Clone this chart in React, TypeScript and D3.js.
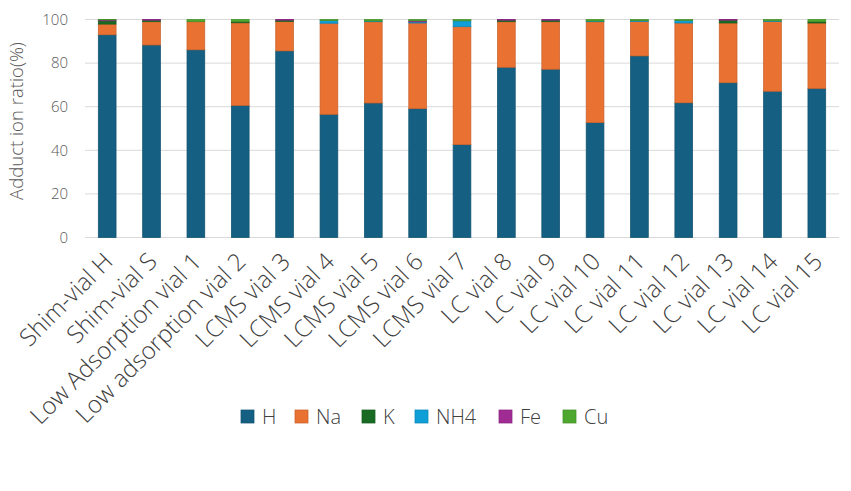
import React from "react";
import * as d3 from "d3";

const categories = [
  "Shim-vial H", "Shim-vial S", "Low Adsorption vial 1", "Low adsorption vial 2",
  "LCMS vial 3", "LCMS vial 4", "LCMS vial 5", "LCMS vial 6", "LCMS vial 7",
  "LC vial 8", "LC vial 9", "LC vial 10", "LC vial 11", "LC vial 12",
  "LC vial 13", "LC vial 14", "LC vial 15",
];
const seriesNames = ["H", "Na", "K", "NH4", "Fe", "Cu"];
const H = [93.0, 88.3, 86.1, 60.6, 85.6, 56.5, 61.7, 59.1, 42.6, 78.1, 77.2, 52.7, 83.3, 61.8, 71.0, 67.1, 68.4];
const Na = [4.9, 10.7, 12.9, 37.9, 13.5, 41.8, 37.3, 39.3, 54.1, 20.9, 21.8, 46.3, 15.8, 36.6, 27.4, 32.0, 30.0];
const K = [1.5, 0.7, 0.0, 0.5, 0.6, 0.0, 0.0, 0.0, 0.0, 0.7, 0.7, 0.0, 0.0, 0.0, 1.3, 0.0, 0.6];
const NH4 = [0.0, 0.0, 0.0, 0.0, 0.0, 1.2, 0.3, 0.5, 2.7, 0.0, 0.0, 0.3, 0.4, 1.2, 0.0, 0.3, 0.0];
const Fe = [0.4, 0.3, 0.0, 0.0, 0.3, 0.0, 0.0, 0.5, 0.0, 0.3, 0.3, 0.0, 0.0, 0.0, 0.3, 0.0, 0.0];
const Cu = [0.2, 0.0, 1.0, 1.0, 0.0, 0.5, 0.7, 0.6, 0.6, 0.0, 0.0, 0.7, 0.5, 0.4, 0.0, 0.6, 1.0];
const yTicks = [0, 20, 40, 60, 80, 100];
const colors = ["#156082", "#E97132", "#196B24", "#0F9ED5", "#A02B93", "#4EA72E"];

const W = 851, HGT = 491;
const FONT = "'Open Sans', 'Noto Sans', sans-serif";

export default function App() {
  const x = d3.scaleBand<string>().domain(categories).range([85, 839]).paddingInner(0.6).paddingOuter(0.3);
  const y = d3.scaleLinear().domain([0, 100]).range([237.5, 19.5]);
  const rows = categories.map((c, i) => ({ cat: c, H: H[i], Na: Na[i], K: K[i], NH4: NH4[i], Fe: Fe[i], Cu: Cu[i] }));
  const stacked = d3.stack<any>().keys(seriesNames)(rows);
  const legendX = [241, 295, 362, 415, 499, 563];
  return (
    <svg width={W} height={HGT} style={{ position: "absolute", left: 0, top: 0, background: "#fff" }} fontFamily={FONT} fontWeight={300}>
      {yTicks.map((t) => (
        <g key={t}>
          <line x1={85} x2={839} y1={y(t)} y2={y(t)} stroke="#d9d9d9" strokeWidth={1} />
          <text x={68} y={y(t)} dy="0.35em" textAnchor="end" fontSize={15} fill="#595959">{t}</text>
        </g>
      ))}
      <text transform={`translate(23,121) rotate(-90)`} textAnchor="middle" fontSize={18.5} fill="#595959">Adduct ion ratio(%)</text>
      {stacked.map((s, si) => (
        <g key={s.key}>
          {s.map((d, i) => {
            const h = y(d[0]) - y(d[1]);
            if (h <= 0) return null;
            return (
              <rect key={i} x={x(categories[i])!} width={x.bandwidth()} y={y(d[1])} height={h}
                fill={colors[si]} stroke={d3.color(colors[si])!.darker(0.4).toString()} strokeWidth={0.75} />
            );
          })}
        </g>
      ))}
      {categories.map((c) => (
        <text key={c} transform={`translate(${x(c)! + x.bandwidth() / 2 + 7},${263}) rotate(-45)`} textAnchor="end" fontSize={24} fill="#404040">{c}</text>
      ))}
      {seriesNames.map((n, i) => (
        <g key={n} transform={`translate(${legendX[i]},${410})`}>
          <rect x={0} y={0} width={13} height={13} fill={colors[i]} stroke={d3.color(colors[i])!.darker(0.4).toString()} strokeWidth={0.75} />
          <text x={21} y={6.5} dy="0.35em" fontSize={20} fill="#404040">{n}</text>
        </g>
      ))}
    </svg>
  );
}
